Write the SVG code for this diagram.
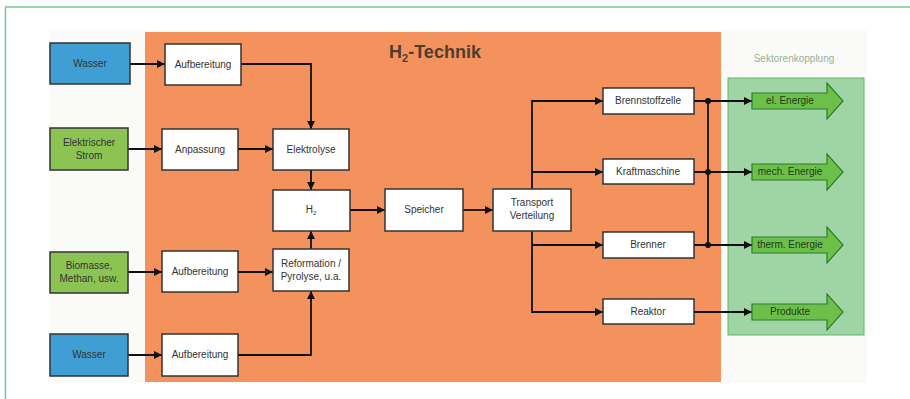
<svg xmlns="http://www.w3.org/2000/svg" width="910" height="399" viewBox="0 0 910 399">
<defs>
<marker id="ah" viewBox="0 0 10 10" refX="10" refY="5" markerWidth="8" markerHeight="8" markerUnits="userSpaceOnUse" orient="auto">
<path d="M0,0 L10,5 L0,10 Z" fill="#111"/>
</marker>
<style>
.box{fill:#fff;stroke:#333;stroke-width:1.5}
.t{font-family:"Liberation Sans",Arial,sans-serif;font-size:10px;fill:#333;text-anchor:middle}
.c{fill:none;stroke:#111;stroke-width:1.8}
.a{marker-end:url(#ah)}
.ga{fill:#6cc04a;stroke:#2f7a2f;stroke-width:1.2}
.gt{font-family:"Liberation Sans",Arial,sans-serif;font-size:10px;fill:#1e3a1e;text-anchor:middle}
</style>
</defs>
<rect x="0" y="0" width="910" height="399" fill="#fff"/>
<rect x="5.5" y="7" width="920" height="410" fill="none" stroke="#72cc94" stroke-width="1.5"/>
<rect x="50" y="30" width="817" height="353" fill="#fafbf9"/>
<rect x="145" y="32" width="576" height="350" fill="#f4925e"/>
<text x="435" y="58" font-family="Liberation Sans,Arial,sans-serif" font-size="18" font-weight="bold" fill="#4e3e30" text-anchor="middle">H<tspan font-size="11" dy="4">2</tspan><tspan dy="-4">-Technik</tspan></text>
<rect x="728" y="78" width="136" height="257" fill="#9fd5a4" stroke="#5fb86a" stroke-width="1"/>
<text x="794" y="62" font-family="Liberation Sans,Arial,sans-serif" font-size="10" fill="#93b493" text-anchor="middle">Sektorenkopplung</text>

<g id="connectors">
<path class="c a" d="M130,64 H165"/>
<path class="c a" d="M241,64 H311 V129"/>
<path class="c a" d="M128,149 H162"/>
<path class="c a" d="M238,149 H273"/>
<path class="c a" d="M311,170 V190"/>
<path class="c a" d="M128,272 H162"/>
<path class="c a" d="M238,272 H273"/>
<path class="c a" d="M311,249 V231"/>
<path class="c a" d="M128,355 H162"/>
<path class="c a" d="M238,355 H311 V291"/>
<path class="c a" d="M350,210 H385"/>
<path class="c a" d="M463,210 H493"/>
<path class="c a" d="M532,189 V101 H603"/>
<path class="c a" d="M532,172 H603"/>
<path class="c a" d="M532,231 V312 H603"/>
<path class="c a" d="M532,245 H603"/>
<path class="c a" d="M694,101 H752"/>
<path class="c a" d="M694,172 H752"/>
<path class="c a" d="M694,245 H752"/>
<path class="c a" d="M694,312 H752"/>
<path class="c" d="M708,101 V245"/>
<circle cx="708" cy="101" r="3" fill="#111"/>
<circle cx="708" cy="172" r="3" fill="#111"/>
<circle cx="708" cy="245" r="3" fill="#111"/>
</g>

<g id="wasser1"><rect x="50" y="43" width="80" height="41" fill="#3f9fd5" stroke="#333" stroke-width="1.5"/><text class="t" x="90" y="67">Wasser</text></g>
<g id="aufbereitung1"><rect class="box" x="165" y="44" width="76" height="41"/><text class="t" x="203" y="68">Aufbereitung</text></g>
<g id="strom"><rect x="50" y="128" width="78" height="42" fill="#8cc453" stroke="#333" stroke-width="1.5"/><text class="t" x="89" y="146">Elektrischer</text><text class="t" x="89" y="159">Strom</text></g>
<g id="anpassung"><rect class="box" x="162" y="129" width="76" height="41"/><text class="t" x="200" y="153">Anpassung</text></g>
<g id="elektrolyse"><rect class="box" x="273" y="129" width="76" height="41"/><text class="t" x="311" y="153">Elektrolyse</text></g>
<g id="h2"><rect class="box" x="273" y="190" width="77" height="41"/><text class="t" x="311" y="213">H<tspan font-size="6" dy="2">2</tspan></text></g>
<g id="speicher"><rect class="box" x="385" y="189" width="78" height="42"/><text class="t" x="424" y="213">Speicher</text></g>
<g id="transport"><rect class="box" x="493" y="189" width="78" height="42"/><text class="t" x="532" y="206">Transport</text><text class="t" x="532" y="219">Verteilung</text></g>
<g id="biomasse"><rect x="50" y="252" width="78" height="41" fill="#8cc453" stroke="#333" stroke-width="1.5"/><text class="t" x="89" y="269">Biomasse,</text><text class="t" x="89" y="282">Methan, usw.</text></g>
<g id="aufbereitung3"><rect class="box" x="162" y="251" width="76" height="41"/><text class="t" x="200" y="275">Aufbereitung</text></g>
<g id="reformation"><rect class="box" x="273" y="249" width="76" height="42"/><text class="t" x="311" y="267">Reformation /</text><text class="t" x="311" y="280">Pyrolyse, u.a.</text></g>
<g id="wasser2"><rect x="50" y="334" width="78" height="42" fill="#3f9fd5" stroke="#333" stroke-width="1.5"/><text class="t" x="89" y="358">Wasser</text></g>
<g id="aufbereitung4"><rect class="box" x="162" y="334" width="76" height="42"/><text class="t" x="200" y="358">Aufbereitung</text></g>
<g id="brennstoffzelle"><rect class="box" x="603" y="88" width="91" height="26"/><text class="t" x="648" y="104">Brennstoffzelle</text></g>
<g id="kraftmaschine"><rect class="box" x="603" y="159" width="91" height="25"/><text class="t" x="648" y="175">Kraftmaschine</text></g>
<g id="brenner"><rect class="box" x="603" y="232" width="91" height="26"/><text class="t" x="648" y="248">Brenner</text></g>
<g id="reaktor"><rect class="box" x="603" y="299" width="91" height="25"/><text class="t" x="648" y="315">Reaktor</text></g>

<g id="el-energie"><path class="ga" d="M752,93 H827 V83 L843,101 L827,119 V109 H752 Z"/><text class="gt" x="790" y="104">el. Energie</text></g>
<g id="mech-energie"><path class="ga" d="M752,164 H827 V154 L843,172 L827,190 V180 H752 Z"/><text class="gt" x="790" y="175">mech. Energie</text></g>
<g id="therm-energie"><path class="ga" d="M752,237 H827 V227 L843,245 L827,263 V253 H752 Z"/><text class="gt" x="790" y="248">therm. Energie</text></g>
<g id="produkte"><path class="ga" d="M752,304 H827 V294 L843,312 L827,330 V320 H752 Z"/><text class="gt" x="790" y="315">Produkte</text></g>
</svg>
